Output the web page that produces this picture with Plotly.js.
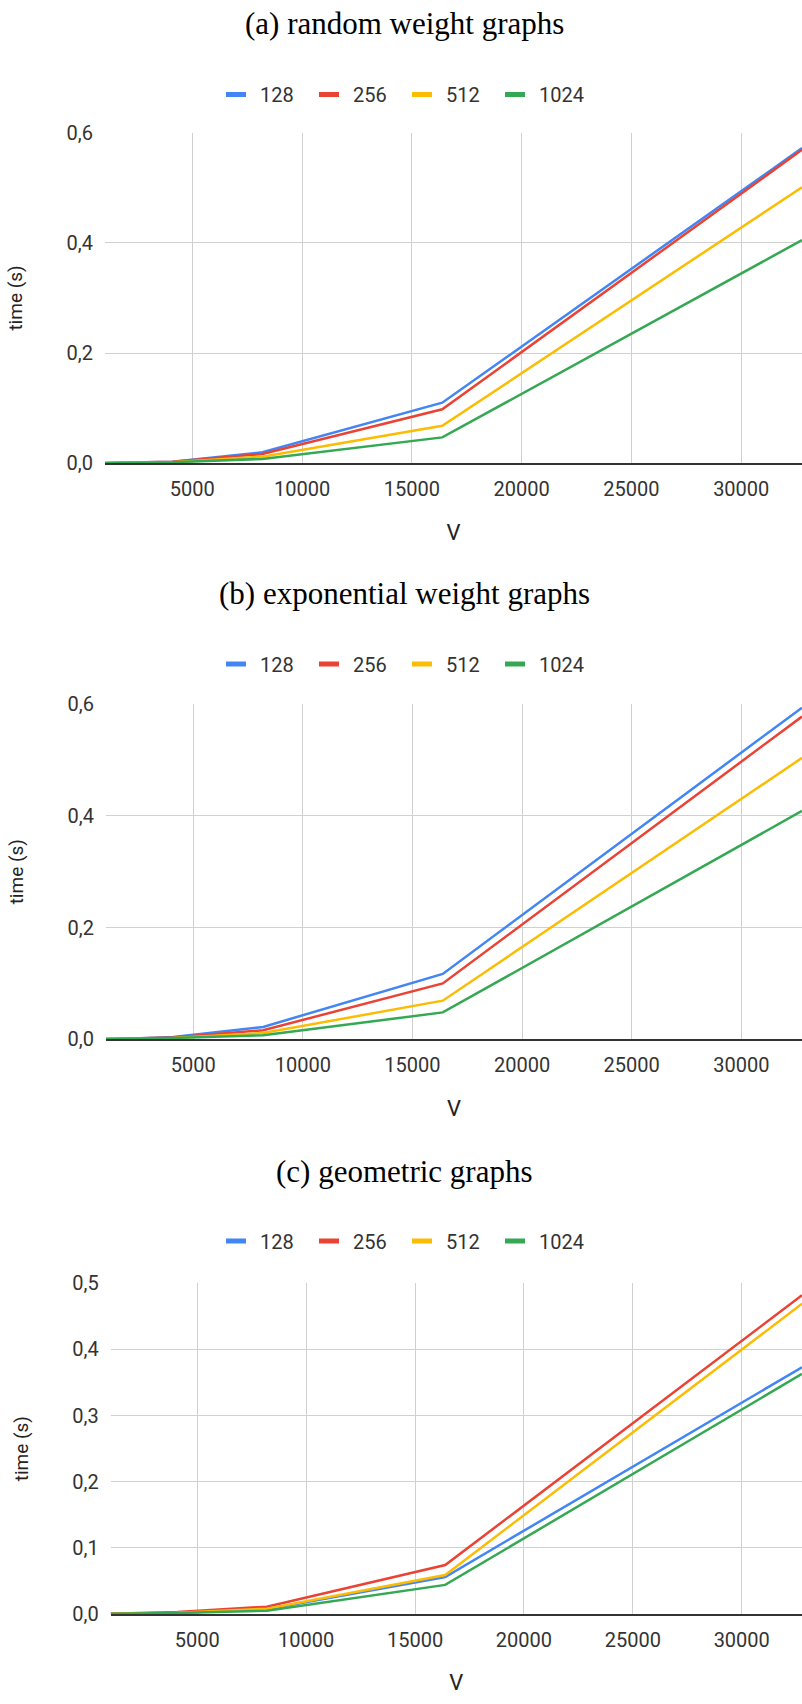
<!DOCTYPE html>
<html>
<head>
<meta charset="utf-8">
<script src="https://cdn.plot.ly/plotly-3.0.1.min.js"></script>
<style>
  html, body { margin: 0; padding: 0; background: #ffffff; }
  #chart { width: 802px; height: 1704px; }
</style>
</head>
<body>
<div id="chart"></div>
<script>
// ---------- data ----------
const V = [1024, 2048, 4096, 8192, 16384, 32768];
const seriesNames = ['128', '256', '512', '1024'];
const seriesColors = ['#4285F4', '#EA4335', '#FBBC04', '#34A853'];

// (a) random weight graphs
const randomT128  = [0.0005, 0.001, 0.003, 0.020, 0.110, 0.572];
const randomT256  = [0.0005, 0.001, 0.003, 0.017, 0.098, 0.569];
const randomT512  = [0.0004, 0.001, 0.002, 0.012, 0.068, 0.501];
const randomT1024 = [0.0003, 0.0008, 0.002, 0.008, 0.047, 0.405];

// (b) exponential weight graphs
const expT128  = [0.0005, 0.001, 0.004, 0.022, 0.117, 0.594];
const expT256  = [0.0005, 0.001, 0.003, 0.016, 0.100, 0.578];
const expT512  = [0.0004, 0.001, 0.002, 0.011, 0.069, 0.504];
const expT1024 = [0.0003, 0.0008, 0.002, 0.007, 0.048, 0.409];

// (c) geometric graphs
const geoT128  = [0.0003, 0.0008, 0.002, 0.007, 0.056, 0.373];
const geoT256  = [0.0004, 0.001, 0.003, 0.011, 0.074, 0.482];
const geoT512  = [0.0003, 0.0008, 0.002, 0.008, 0.059, 0.469];
const geoT1024 = [0.0002, 0.0006, 0.0015, 0.005, 0.044, 0.363];

const panelTitles = ['(a) random weight graphs', '(b) exponential weight graphs', '(c) geometric graphs'];
const yMax = [0.6, 0.6, 0.5];
const yStep = [0.2, 0.2, 0.1];
const xTickVals = [5000, 10000, 15000, 20000, 25000, 30000];
const xTickText = ['5000', '10000', '15000', '20000', '25000', '30000'];
const xTitle = 'V';
const yTitle = 'time (s)';

const panelData = [
  [randomT128, randomT256, randomT512, randomT1024],
  [expT128, expT256, expT512, expT1024],
  [geoT128, geoT256, geoT512, geoT1024]
];

// ---------- layout geometry (pixels) ----------
const W = 802, H = 1704;
const panels = [
  { title: 23,   legend: 94.5, top: 132.7,  bottom: 463.3, left: 105 },
  { title: 593,  legend: 664,  top: 704.3,  bottom: 1039.2, left: 106 },
  { title: 1171, legend: 1241, top: 1283.3, bottom: 1614, left: 110.7 }
];

const sans = 'Roboto, Arial, sans-serif';
const serif = '"Liberation Serif", "Times New Roman", serif';
const textColor = '#333333';

const traces = [];
const layout = {
  width: W, height: H,
  margin: { l: 0, r: 0, t: 0, b: 0 },
  paper_bgcolor: '#ffffff',
  plot_bgcolor: '#ffffff',
  separators: ',',
  font: { family: sans, color: textColor, size: 20 },
  annotations: [],
  hovermode: false
};

panels.forEach((p, i) => {
  const n = i + 1;
  const xa = 'x' + (n === 1 ? '' : n);
  const ya = 'y' + (n === 1 ? '' : n);
  const legendKey = 'legend' + (n === 1 ? '' : n);

  panelData[i].forEach((ys, k) => {
    traces.push({
      type: 'scatter', mode: 'lines',
      x: V, y: ys,
      name: seriesNames[k],
      xaxis: xa, yaxis: ya,
      legend: legendKey,
      line: { color: seriesColors[k], width: 2.5 }
    });
  });

  const yticks = [];
  const ytext = [];
  for (let v = 0; v <= yMax[i] + 1e-9; v += yStep[i]) {
    yticks.push(+v.toFixed(2));
    ytext.push(v.toFixed(1).replace('.', ','));
  }

  layout['xaxis' + (n === 1 ? '' : n)] = {
    domain: [p.left / W, 1],
    anchor: ya,
    range: [V[0], V[V.length - 1]],
    tickmode: 'array', tickvals: xTickVals, ticktext: xTickText,
    showgrid: true, gridcolor: '#d0d0d0', gridwidth: 1,
    zeroline: false,
    showline: true, linecolor: '#333333', linewidth: 2,
    ticks: '', ticklabelstandoff: 7,
    tickfont: { family: sans, size: 20, color: textColor },
    title: { text: xTitle, standoff: 24, font: { family: sans, size: 22, color: '#222222' } },
    fixedrange: true
  };
  layout['yaxis' + (n === 1 ? '' : n)] = {
    domain: [1 - p.bottom / H, 1 - p.top / H],
    anchor: xa,
    range: [0, yMax[i]],
    tickmode: 'array', tickvals: yticks, ticktext: ytext,
    showgrid: true, gridcolor: '#d0d0d0', gridwidth: 1,
    zeroline: false, showline: false,
    ticks: '', ticklabelstandoff: 11,
    tickfont: { family: sans, size: 20, color: textColor },
    title: { text: yTitle, standoff: 38, font: { family: sans, size: 19, color: '#222222' } },
    fixedrange: true
  };
  layout[legendKey] = {
    orientation: 'h',
    x: 220 / W, xanchor: 'left',
    y: 1 - p.legend / H, yanchor: 'middle',
    entrywidth: 48, entrywidthmode: 'pixels',
    font: { family: sans, size: 20, color: textColor },
    bgcolor: 'rgba(0,0,0,0)', borderwidth: 0
  };
  layout.annotations.push({
    xref: 'paper', yref: 'paper',
    x: 404 / W, y: 1 - p.title / H,
    xanchor: 'center', yanchor: 'middle',
    showarrow: false,
    text: panelTitles[i],
    font: { family: serif, size: 31, color: '#000000' }
  });
});

Plotly.newPlot('chart', traces, layout, { staticPlot: true, displayModeBar: false }).then(gd => {
  gd.querySelectorAll('.legendlines path').forEach(pth => {
    pth.setAttribute('d', 'M6,0h20');
    pth.style.strokeWidth = '5px';
  });
});
</script>
</body>
</html>
